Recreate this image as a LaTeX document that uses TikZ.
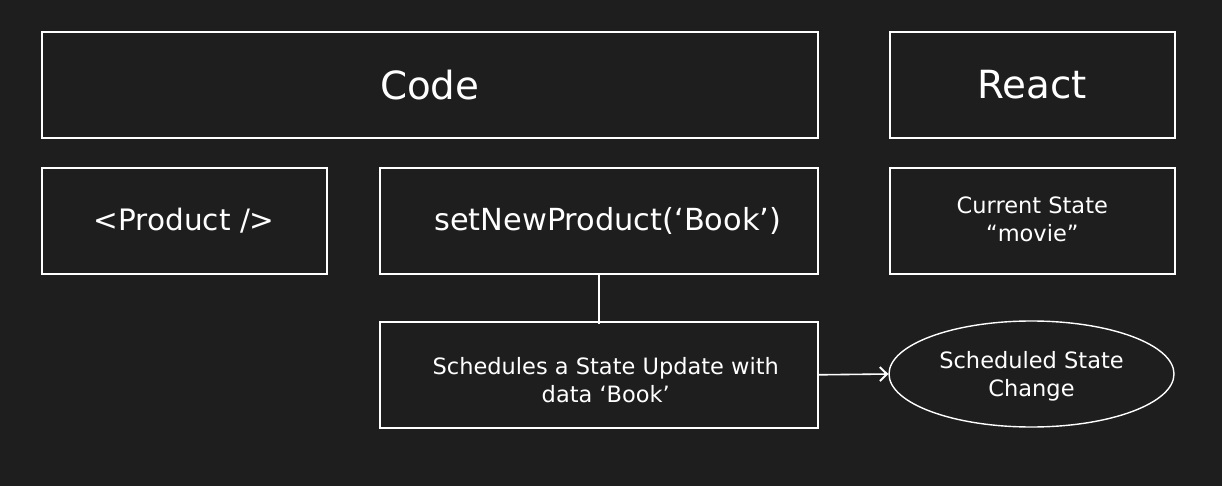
\documentclass[tikz,border=0pt]{standalone}
\usepackage{fontspec}
\setmainfont{DejaVu Sans}
\usetikzlibrary{arrows.meta,shapes.geometric}
\definecolor{bg}{HTML}{1E1E1E}
\begin{document}
\begin{tikzpicture}[x=1pt,y=-1pt,
  box/.style={draw=white,line width=1.6pt,text=white,inner sep=0pt,anchor=north west},
  lbl/.style={text=white,inner sep=0pt},
  big/.style={font=\fontsize{38.8}{44}\selectfont},
  mid/.style={font=\fontsize{29.5}{34}\selectfont},
  sml/.style={font=\fontsize{22.5}{28}\selectfont,align=center},
  conn/.style={draw=white,line width=1.6pt}]
\fill[bg] (0,0) rectangle (1222,486);
\useasboundingbox (0,0) rectangle (1222,486);
\node[box,minimum width=776pt,minimum height=106pt] (code) at (41,31) {};
\node[lbl,big] at (code.center) {Code};
\node[box,minimum width=285pt,minimum height=106pt] (react) at (889,31) {};
\node[lbl,big] at (react.center) {React};
\node[box,minimum width=285pt,minimum height=106pt] (prod) at (41,167) {};
\node[lbl,mid] at (prod.center) {<Product />};
\node[box,minimum width=438pt,minimum height=106pt] (setnp) at (379,167) {};
\node[lbl,mid,font=\fontsize{30.4}{34}\selectfont] at ([xshift=9pt]setnp.center) {setNewProduct(‘Book’)};
\node[box,minimum width=285pt,minimum height=106pt] (cur) at (889,167) {};
\node[lbl,sml] at ([yshift=1pt]cur.center) {Current State\\“movie”};
\node[box,minimum width=438pt,minimum height=106pt] (sched) at (379,321) {};
\node[lbl,sml] at ([xshift=7pt,yshift=-5pt]sched.center) {Schedules a State Update with\\data ‘Book’};
\node[draw=white,line width=1.4pt,ellipse,minimum width=285pt,minimum height=106pt,inner sep=0pt] (ell) at (1031.5,374) {};
\node[lbl,sml] at ([yshift=-2pt]ell.center) {Scheduled State\\Change};
\coordinate (lend) at ([yshift=-3pt]sched.north);
\draw[conn] (setnp.south) -- (lend);
\draw[conn,-{Straight Barb[length=7pt,width=14pt,line width=2pt]}] (sched.east) -- (ell.west);
\end{tikzpicture}
\end{document}
